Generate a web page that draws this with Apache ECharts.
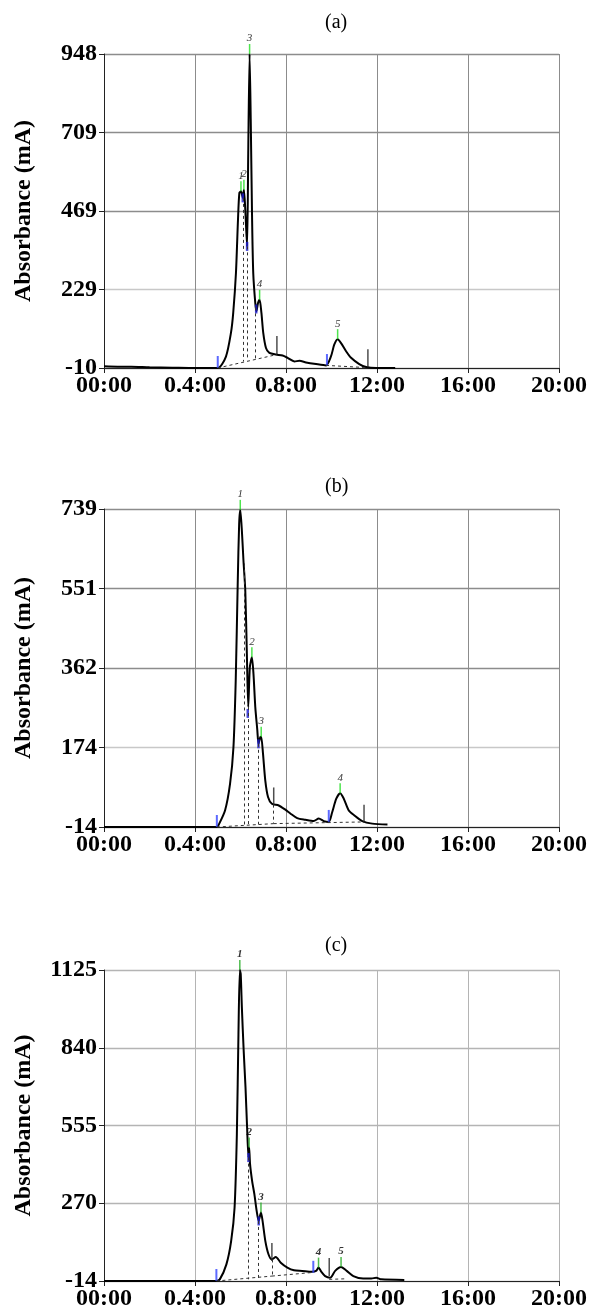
<!DOCTYPE html>
<html>
<head>
<meta charset="utf-8">
<script src="https://cdn.jsdelivr.net/npm/echarts@6/dist/echarts.min.js"></script>
<style>
html, body { margin: 0; padding: 0; background: #fff; }
#box { width: 594px; height: 1313px; }
</style>
</head>
<body>
<div id="box"></div>
<script>
// x axis (minutes) and its printed tick labels
var timeLabels = ['00:00', '0.4:00', '0.8:00', '12:00', '16:00', '20:00'];
var panelNames = ['(a)', '(b)', '(c)'];

// ---- panel (a)
var yTicksA = [-10, 229.5, 469, 708.5, 948];
var yLabelsA = ['-10', '229', '469', '709', '948'];
var timeA = [0, 0.6, 1.2, 2.0, 3.0, 4.0, 5.0, 5.36, 5.58, 5.68, 5.80, 5.89, 5.95, 6.02, 6.10, 6.15, 6.21, 6.29, 6.34, 6.40, 6.45, 6.51, 6.56, 6.65, 6.70, 6.77, 6.84, 6.92, 7.00, 7.12, 7.27, 7.56, 7.85, 8.07, 8.37, 8.59, 8.88, 9.32, 9.76, 9.98, 10.12, 10.27, 10.42, 10.64, 10.86, 11.22, 11.52, 11.96, 12.8];
var absA = [-5, -6, -6, -8, -9, -10, -10, 25, 97, 158, 280, 443, 524, 529, 509, 534, 473, 361, 646, 948, 748, 443, 280, 188, 163, 188, 198, 158, 97, 51, 36, 31, 28, 21, 10, 12, 7, 2, -2, 26, 61, 78, 66, 41, 21, 2, -7, -10, -10];
var peakTimeA = [6.02, 6.15, 6.40, 6.84, 10.27];
var peakAbsA = [529, 534, 948, 198, 78];
var peakNameA = ['1', '2', '3', '4', '5'];
var startTimeA = [5.0, 9.8];
var startAbsA = [-10, -4];
var endTimeA = [7.6, 11.6];
var endAbsA = [33, -8];
var valleyTimeA = [6.10, 6.29, 6.69];
var valleyAbsA = [509, 361, 170];
var dashA = [[5.0, -10, 7.6, 31], [6.10, 509, 6.10, 10], [6.29, 361, 6.29, 13], [6.67, 175, 6.67, 17], [9.76, -2, 11.6, -9]];

// ---- panel (b)
var yTicksB = [-14, 174.25, 362.5, 550.75, 739];
var yLabelsB = ['-14', '174', '362', '551', '739'];
var timeB = [0, 2.0, 4.0, 4.96, 5.03, 5.32, 5.54, 5.69, 5.79, 5.88, 5.94, 5.99, 6.06, 6.13, 6.21, 6.28, 6.34, 6.41, 6.50, 6.57, 6.65, 6.74, 6.79, 6.87, 6.91, 6.99, 7.09, 7.21, 7.38, 7.68, 7.97, 8.19, 8.49, 8.85, 9.22, 9.44, 9.66, 9.88, 10.03, 10.21, 10.38, 10.54, 10.76, 10.99, 11.35, 11.79, 12.46];
var absB = [-14, -14, -14, -14, -10, 25, 88, 175, 333, 569, 703, 737, 688, 617, 546, 396, 270, 364, 388, 349, 270, 215, 183, 199, 200, 159, 96, 57, 41, 37, 27, 18, 7, 3, 0, 6, 0, -2, 21, 53, 66, 53, 25, 14, 0, -6, -8];
var peakTimeB = [5.99, 6.50, 6.91, 10.38];
var peakAbsB = [737, 388, 200, 66];
var peakNameB = ['1', '2', '3', '4'];
var startTimeB = [4.96, 9.88];
var startAbsB = [-14, -2];
var endTimeB = [7.46, 11.43];
var endAbsB = [37, -4];
var valleyTimeB = [6.32, 6.79];
var valleyAbsB = [255, 183];
var dashB = [[4.96, -14, 7.46, -6], [7.46, -6, 11.43, -2], [6.16, 610, 6.16, -12], [6.32, 270, 6.32, -10], [6.79, 183, 6.79, -8], [7.46, 39, 7.46, -6]];

// ---- panel (c)
var yTicksC = [-14, 270.75, 555.5, 840.25, 1125];
var yLabelsC = ['-14', '270', '555', '840', '1125'];
var timeC = [0, 2.0, 4.0, 4.94, 5.09, 5.38, 5.59, 5.74, 5.84, 5.91, 5.97, 6.01, 6.06, 6.14, 6.22, 6.29, 6.35, 6.38, 6.42, 6.51, 6.61, 6.71, 6.80, 6.90, 6.97, 7.09, 7.23, 7.38, 7.55, 7.77, 8.06, 8.35, 8.71, 9.14, 9.32, 9.43, 9.55, 9.72, 9.94, 10.16, 10.42, 10.67, 10.96, 11.39, 11.75, 11.97, 12.19, 13.2];
var absC = [-14, -14, -14, -14, -8, 47, 133, 255, 524, 890, 1125, 1110, 988, 829, 695, 548, 438, 475, 414, 353, 304, 243, 206, 237, 206, 133, 84, 65, 74, 53, 35, 25, 23, 20, 23, 35, 20, 4, -2, 23, 37, 23, 4, -5, -5, -2, -8, -10];
var peakTimeC = [5.97, 6.38, 6.90, 9.43, 10.42];
var peakAbsC = [1125, 475, 237, 35, 37];
var peakNameC = ['1', '2', '3', '4', '5'];
var startTimeC = [4.94, 9.2];
var startAbsC = [-14, 16];
var endTimeC = [7.38, 9.9];
var endAbsC = [59, 4];
var valleyTimeC = [6.35, 6.80];
var valleyAbsC = [438, 206];
var dashC = [[4.94, -14, 7.38, 4], [7.38, 4, 9.14, 17], [6.35, 438, 6.35, -8], [6.80, 206, 6.80, -4], [7.38, 65, 7.38, 4], [9.9, -8, 10.6, -6]];

var serif = "'Liberation Serif', 'Times New Roman', serif";
var gridTops = [54, 509, 970];
var gridHeights = [314, 318, 311];
var titleTops = [13, 477, 936];

var panels = [
  {ticks: yTicksA, labels: yLabelsA, time: timeA, abs: absA, pt: peakTimeA, pa: peakAbsA, pn: peakNameA,
   st: startTimeA, sa: startAbsA, et: endTimeA, ea: endAbsA, vt: valleyTimeA, va: valleyAbsA, dash: dashA,
   splitColors: ['#888', '#c8c8c8', '#8c8c8c', '#8c8c8c', '#8c8c8c'], peakColor: '#22dd22'},
  {ticks: yTicksB, labels: yLabelsB, time: timeB, abs: absB, pt: peakTimeB, pa: peakAbsB, pn: peakNameB,
   st: startTimeB, sa: startAbsB, et: endTimeB, ea: endAbsB, vt: valleyTimeB, va: valleyAbsB, dash: dashB,
   splitColors: ['#888', '#c8c8c8', '#8c8c8c', '#8c8c8c', '#8c8c8c'], peakColor: '#22dd22'},
  {ticks: yTicksC, labels: yLabelsC, time: timeC, abs: absC, pt: peakTimeC, pa: peakAbsC, pn: peakNameC,
   st: startTimeC, sa: startAbsC, et: endTimeC, ea: endAbsC, vt: valleyTimeC, va: valleyAbsC, dash: dashC,
   splitColors: ['#aaa', '#b4b4b4', '#b4b4b4', '#b4b4b4', '#b4b4b4'], peakColor: '#22aa22'}
];

var grids = [], xAxes = [], yAxes = [], series = [], graphics = [];

function pairs(xs, ys) {
  return xs.map(function (x, i) { return [x, ys[i]]; });
}

panels.forEach(function (p, k) {
  grids.push({left: 104, width: 455, top: gridTops[k], height: gridHeights[k]});
  xAxes.push({
    type: 'value', gridIndex: k, min: 0, max: 20, interval: 4,
    axisLine: {show: true, onZero: false, lineStyle: {color: '#222', width: 1}},
    axisTick: {show: true, length: 5, lineStyle: {color: '#222'}},
    splitLine: {show: true, lineStyle: {color: p.splitColors[2], width: 1}},
    axisLabel: {
      margin: 6, color: '#000', fontFamily: serif, fontWeight: 'bold', fontSize: 24,
      formatter: function (v) { return timeLabels[Math.round(v / 4)]; }
    }
  });
  var t = p.ticks;
  yAxes.push({
    type: 'value', gridIndex: k, min: t[0], max: t[4], interval: t[1] - t[0],
    name: 'Absorbance (mA)', nameLocation: 'middle', nameGap: 68, nameRotate: 90,
    nameTextStyle: {color: '#000', fontFamily: serif, fontWeight: 'bold', fontSize: 24},
    axisLine: {show: true, lineStyle: {color: '#222', width: 1}},
    axisTick: {show: true, length: 5, lineStyle: {color: '#222'}},
    splitLine: {show: true, lineStyle: {color: p.splitColors, width: 1.3}},
    axisLabel: {
      margin: 7, color: '#000', fontFamily: serif, fontWeight: 'bold', fontSize: 24,
      formatter: function (v) {
        var best = 0;
        for (var i = 1; i < t.length; i++) {
          if (Math.abs(t[i] - v) < Math.abs(t[best] - v)) best = i;
        }
        return p.labels[best];
      }
    }
  });
  // dashed baselines and drop lines
  series.push({
    type: 'line', xAxisIndex: k, yAxisIndex: k, data: [], silent: true,
    markLine: {
      symbol: 'none', silent: true, label: {show: false},
      lineStyle: {type: [3, 3], color: '#333', width: 1},
      data: p.dash.map(function (d) { return [{coord: [d[0], d[1]]}, {coord: [d[2], d[3]]}]; })
    }
  });
  // chromatogram trace
  series.push({
    type: 'line', xAxisIndex: k, yAxisIndex: k, data: pairs(p.time, p.abs),
    showSymbol: false, smooth: 0.25, lineStyle: {color: '#000', width: 2}, z: 3
  });
  // peak integration start ticks
  series.push({
    type: 'scatter', xAxisIndex: k, yAxisIndex: k, data: pairs(p.st, p.sa),
    symbol: 'rect', symbolSize: [2, 12], symbolOffset: [0, -6], itemStyle: {color: '#3344ff'}, z: 4
  });
  // peak integration end ticks
  series.push({
    type: 'scatter', xAxisIndex: k, yAxisIndex: k, data: pairs(p.et, p.ea),
    symbol: 'rect', symbolSize: [1.5, 18], symbolOffset: [0, -9], itemStyle: {color: '#222'}, z: 4
  });
  // valley marks
  series.push({
    type: 'scatter', xAxisIndex: k, yAxisIndex: k, data: pairs(p.vt, p.va),
    symbol: 'rect', symbolSize: [2.5, 9], itemStyle: {color: '#1a1acc'}, z: 4
  });
  // peak apex marks with numbers
  series.push({
    type: 'scatter', xAxisIndex: k, yAxisIndex: k,
    data: p.pt.map(function (x, i) { return {value: [x, p.pa[i]], name: p.pn[i]}; }),
    symbol: 'rect', symbolSize: [1.5, 10], symbolOffset: [0, -5], itemStyle: {color: p.peakColor}, z: 5,
    label: {
      show: true, position: 'top', distance: 0, formatter: '{b}', color: '#000',
      fontFamily: serif, fontStyle: 'italic', fontWeight: k === 2 ? 'bold' : 'normal', fontSize: 11
    }
  });
  graphics.push({
    type: 'text', left: 325, top: titleTops[k],
    style: {text: panelNames[k], fill: '#000', font: '20px ' + serif}
  });
});

var myChart = echarts.init(document.getElementById('box'));
var option = {
  backgroundColor: '#fff',
  animation: false,
  grid: grids,
  xAxis: xAxes,
  yAxis: yAxes,
  series: series,
  graphic: graphics
};
myChart.setOption(option);
</script>
</body>
</html>
